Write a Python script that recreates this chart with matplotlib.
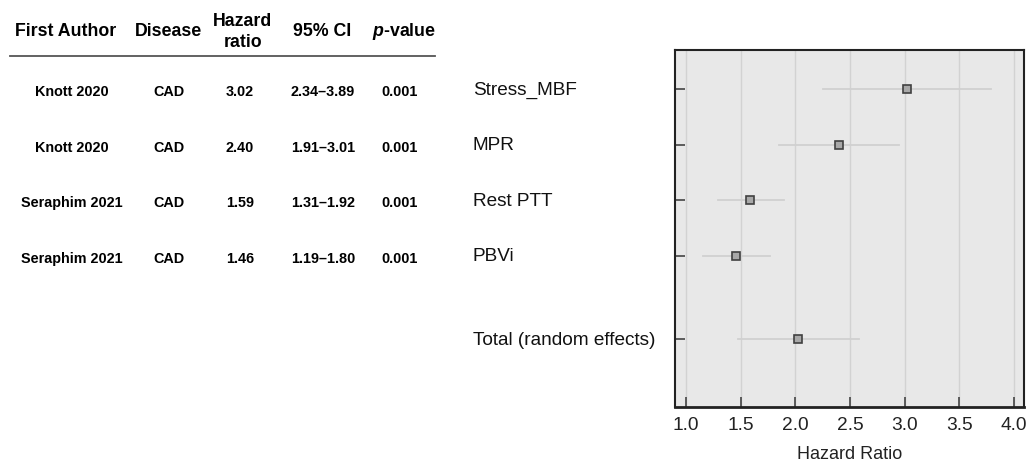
import numpy as np
import matplotlib.pyplot as plt

plt.rcParams['font.family'] = ['Liberation Sans', 'DejaVu Sans']
plt.rcParams['mathtext.fontset'] = 'custom'
plt.rcParams['mathtext.bfit'] = 'Liberation Sans:bold:italic'

# table data
authors = ['Knott 2020', 'Knott 2020', 'Seraphim 2021', 'Seraphim 2021']
disease = ['CAD', 'CAD', 'CAD', 'CAD']
hr_text = ['3.02', '2.40', '1.59', '1.46']
ci_text = ['2.34\u20133.89', '1.91\u20133.01', '1.31\u20131.92', '1.19\u20131.80']
p_text = ['0.001', '0.001', '0.001', '0.001']

# forest plot data
labels = ['Stress_MBF', 'MPR', 'Rest PTT', 'PBVi', 'Total (random effects)']
hr = [3.02, 2.40, 1.59, 1.46, 2.02]
lo = [2.25, 1.85, 1.29, 1.16, 1.48]
hi = [3.79, 2.95, 1.90, 1.77, 2.58]

fig = plt.figure(figsize=(10.29, 4.63), dpi=100)
W, H = 1029, 463

# row positions: 4 studies then a gap then total
ypos = np.array([4.5, 3.5, 2.5, 1.5, 0.0])

ax = fig.add_axes([675/W, 1 - 407/H, (1024-675)/W, (407-50)/H])
ax.set_facecolor('#e8e8e8')
ax.set_xlim(0.9, 4.09)
ax.set_ylim(-1.22, 5.2)
ax.set_xticks(np.arange(1.0, 4.01, 0.5))
ax.set_xticklabels(['%.1f' % v for v in np.arange(1.0, 4.01, 0.5)], fontsize=13.8, color='#222222')
ax.xaxis.grid(True, color='#d2d2d2', lw=1)
ax.set_axisbelow(True)
ax.set_yticks(ypos)
ax.set_yticklabels([])
ax.tick_params(axis='x', direction='in', length=7, width=1.2, color='#444444', pad=7)
ax.tick_params(axis='y', direction='in', length=7, width=1.2, color='#444444')
for s in ax.spines.values():
    s.set_linewidth(1.5)
    s.set_color('#222222')
ax.spines['bottom'].set_linewidth(2)

for i in range(len(hr)):
    ax.plot([lo[i], hi[i]], [ypos[i], ypos[i]], color='#d0d0d0', lw=1.3, zorder=2)
    ax.plot(hr[i], ypos[i], marker='s', ms=5.5, mfc='#a8a8a8', mec='#404040', mew=1.2, zorder=3)

ax.set_xlabel('Hazard Ratio', fontsize=13, color='#222222', labelpad=9)

# study labels left of plot
for i in range(len(labels)):
    ypix = ax.transData.transform((1.0, ypos[i]))[1] - 1
    fig.text(473/W, ypix/(H), labels[i], fontsize=13.7, va='center', ha='left', color='#111111')

# table on the left
col_x = [72, 169, 240, 323, 400]
head_x = [66, 168, 243, 322, 404]
hy = 1 - 32/H
fig.text(head_x[0]/W, hy, 'First Author', fontsize=12.8, weight='bold', ha='center', va='center')
fig.text(head_x[1]/W, hy, 'Disease', fontsize=12.8, weight='bold', ha='center', va='center')
fig.text(head_x[2]/W, hy, 'Hazard\nratio', fontsize=12.8, weight='bold', ha='center', va='center', linespacing=1.35)
fig.text(head_x[3]/W, hy, '95% CI', fontsize=12.8, weight='bold', ha='center', va='center')
fig.text(head_x[4]/W, hy, r'$\bfit{p}$-value', fontsize=12.8, weight='bold', ha='center', va='center')
fig.add_artist(plt.Line2D([10/W, 435/W], [1 - 56/H, 1 - 56/H], color='#555555', lw=1.3))

for i in range(len(authors)):
    ypix = ax.transData.transform((1.0, ypos[i]))[1] - 3
    row = [authors[i], disease[i], hr_text[i], ci_text[i], p_text[i]]
    for j in range(5):
        fig.text(col_x[j]/W, ypix/H, row[j], fontsize=10.4, weight='bold', ha='center', va='center')

fig.savefig('out.png', dpi=100)
